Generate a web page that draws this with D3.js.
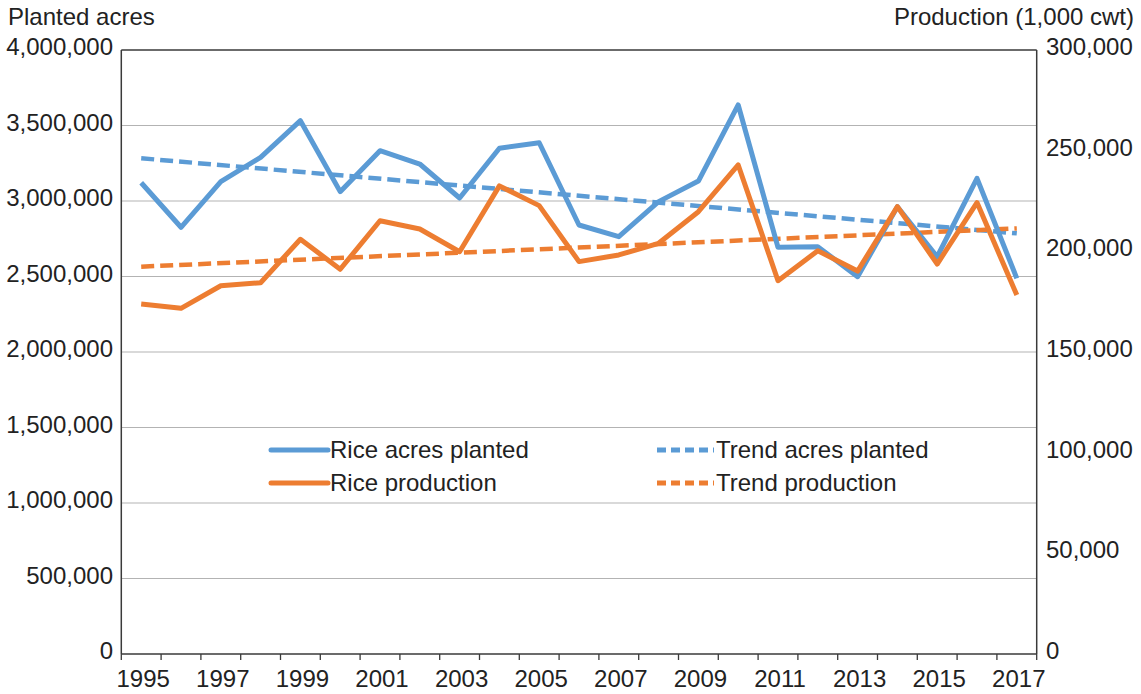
<!DOCTYPE html>
<html>
<head>
<meta charset="utf-8">
<script src="https://cdn.jsdelivr.net/npm/d3@7"></script>
<style>
  html, body { margin: 0; padding: 0; background: #fff; }
  svg { display: block; font-family: "Liberation Sans", Arial, Helvetica, sans-serif; }
</style>
</head>
<body>
<svg id="chart" width="1141" height="694"></svg>
<script>
// ---- Data ----
const years = [1995,1996,1997,1998,1999,2000,2001,2002,2003,2004,2005,2006,2007,2008,2009,2010,2011,2012,2013,2014,2015,2016,2017];
const yearLabels = ["1995","1997","1999","2001","2003","2005","2007","2009","2011","2013","2015","2017"];
const acresPlanted = [3121000,2826000,3128000,3289000,3532000,3062000,3333000,3245000,3020000,3349000,3386000,2841000,2764000,2996000,3132000,3636000,2693000,2697000,2499000,2962000,2631000,3150000,2488000];
const production = [173800,171700,182900,184400,206000,191100,215200,211100,199800,232500,222700,194900,198200,204000,219700,242900,185400,200300,190200,222200,193700,224200,178300];
const trendYears = [1995, 2017];
const trendAcres = [3283000, 2786000];
const trendProduction = [192400, 211400];
const leftTicks = [0,500000,1000000,1500000,2000000,2500000,3000000,3500000,4000000];
const rightTicks = [0,50000,100000,150000,200000,250000,300000];
const seriesNames = ["Rice acres planted","Trend acres planted","Rice production","Trend production"];

// ---- Layout ----
const L = 121.3, R = 1036.7, T = 50, B = 654;
const blue = "#5B9BD5", orange = "#ED7D31";
const fs = 24;
const svg = d3.select("#chart");

const x = d3.scaleBand().domain(years).range([L, R]).padding(0);
const cx = d => x(d) + x.bandwidth() / 2;
const yL = d3.scaleLinear().domain([0, 4000000]).range([B, T]);
const yR = d3.scaleLinear().domain([0, 300000]).range([B, T]);
const fmt = d3.format(",");

// gridlines
svg.append("g").selectAll("line").data(leftTicks.filter(v => v > 0 && v < 4000000)).join("line")
  .attr("x1", L).attr("x2", R).attr("y1", d => yL(d)).attr("y2", d => yL(d))
  .attr("stroke", "#b3b3b3").attr("stroke-width", 1.2);

// frame
const axisColor = "#3a3a3a";
svg.append("line").attr("x1", L).attr("x2", R).attr("y1", T).attr("y2", T).attr("stroke", axisColor).attr("stroke-width", 1.5);
svg.append("line").attr("x1", L).attr("x2", L).attr("y1", T).attr("y2", B).attr("stroke", axisColor).attr("stroke-width", 1.5);
svg.append("line").attr("x1", R).attr("x2", R).attr("y1", T).attr("y2", B).attr("stroke", axisColor).attr("stroke-width", 1.5);
svg.append("line").attr("x1", L).attr("x2", R).attr("y1", B).attr("y2", B).attr("stroke", axisColor).attr("stroke-width", 1.5);

// x tick marks at category boundaries
const bounds = years.map(d => x(d)).concat([R]);
svg.append("g").selectAll("line").data(bounds).join("line")
  .attr("x1", d => d).attr("x2", d => d).attr("y1", B).attr("y2", B + 6)
  .attr("stroke", axisColor).attr("stroke-width", 1.3);

// x labels
svg.append("g").selectAll("text").data(yearLabels).join("text")
  .attr("x", d => cx(+d) + 2).attr("y", 687)
  .attr("text-anchor", "middle").attr("font-size", fs).attr("fill", "#222")
  .text(d => d);

// left labels
svg.append("g").selectAll("text").data(leftTicks).join("text")
  .attr("x", 113).attr("y", d => yL(d) + 5)
  .attr("text-anchor", "end").attr("font-size", fs).attr("fill", "#222")
  .text(d => fmt(d));

// right labels
svg.append("g").selectAll("text").data(rightTicks).join("text")
  .attr("x", 1046).attr("y", d => yR(d) + 5)
  .attr("text-anchor", "start").attr("font-size", fs).attr("fill", "#222")
  .text(d => fmt(d));

// axis titles
svg.append("text").attr("x", 8).attr("y", 25).attr("font-size", fs).attr("fill", "#222").text("Planted acres");
svg.append("text").attr("x", 1134).attr("y", 25).attr("text-anchor", "end").attr("font-size", fs).attr("fill", "#222").text("Production (1,000 cwt)");

// lines
const lineL = d3.line().x((d, i) => cx(years[i])).y(d => yL(d));
const lineR = d3.line().x((d, i) => cx(years[i])).y(d => yR(d));
const trendL = d3.line().x((d, i) => cx(trendYears[i])).y(d => yL(d));
const trendR = d3.line().x((d, i) => cx(trendYears[i])).y(d => yR(d));

svg.append("path").datum(trendAcres).attr("d", trendL).attr("fill", "none")
  .attr("stroke", blue).attr("stroke-width", 4.5).attr("stroke-dasharray", "13,6");
svg.append("path").datum(trendProduction).attr("d", trendR).attr("fill", "none")
  .attr("stroke", orange).attr("stroke-width", 4.5).attr("stroke-dasharray", "13,6");
svg.append("path").datum(acresPlanted).attr("d", lineL).attr("fill", "none")
  .attr("stroke", blue).attr("stroke-width", 5).attr("stroke-linejoin", "round");
svg.append("path").datum(production).attr("d", lineR).attr("fill", "none")
  .attr("stroke", orange).attr("stroke-width", 5).attr("stroke-linejoin", "round");

// legend
const legend = [
  {name: seriesNames[0], color: blue, dash: null, x: 271, y: 450},
  {name: seriesNames[1], color: blue, dash: "9,5", x: 657, y: 450},
  {name: seriesNames[2], color: orange, dash: null, x: 271, y: 483},
  {name: seriesNames[3], color: orange, dash: "9,5", x: 657, y: 483}
];
const lg = svg.append("g").selectAll("g").data(legend).join("g");
lg.append("line").attr("x1", d => d.x).attr("x2", d => d.x + 57).attr("y1", d => d.y).attr("y2", d => d.y)
  .attr("stroke", d => d.color).attr("stroke-width", 5)
  .attr("stroke-linecap", d => d.dash ? "butt" : "round")
  .attr("stroke-dasharray", d => d.dash);
lg.append("text").attr("x", d => d.x + 59).attr("y", d => d.y + 8)
  .attr("font-size", fs).attr("fill", "#222").text(d => d.name);
</script>
</body>
</html>
